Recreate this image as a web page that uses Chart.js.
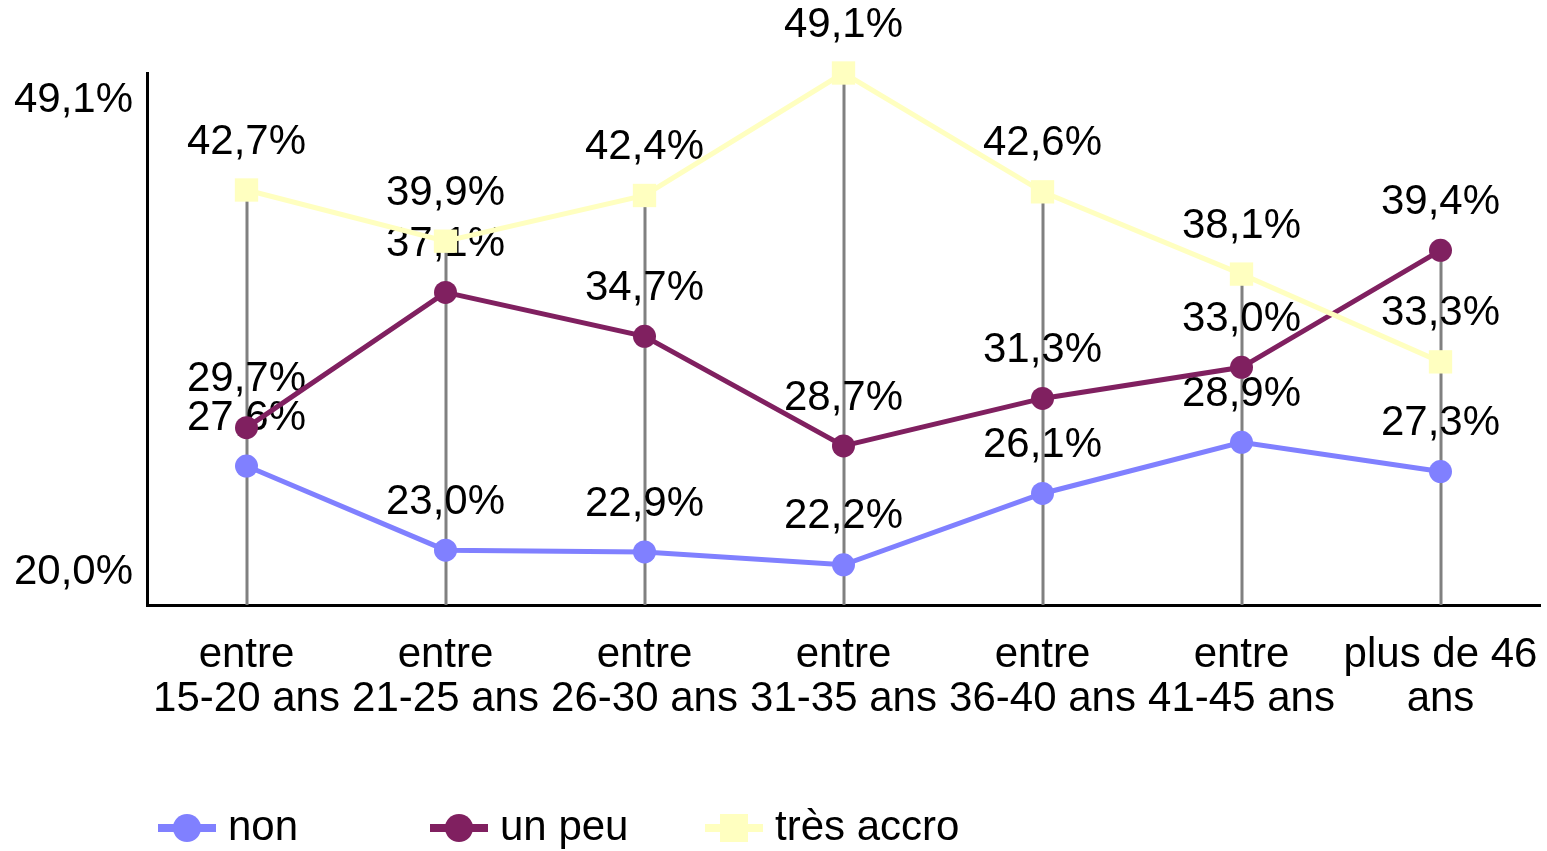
<!DOCTYPE html>
<html>
<head>
<meta charset="utf-8">
<script src="https://cdn.jsdelivr.net/npm/chart.js@4.4.1/dist/chart.umd.min.js"></script>
<style>
  html, body { margin: 0; padding: 0; background: #fff; }
  #wrap { width: 1547px; height: 851px; position: relative; }
</style>
</head>
<body>
<div id="wrap"><canvas id="ageChart"></canvas></div>
<script>
const categories = [
    ['entre', '15-20 ans'],
    ['entre', '21-25 ans'],
    ['entre', '26-30 ans'],
    ['entre', '31-35 ans'],
    ['entre', '36-40 ans'],
    ['entre', '41-45 ans'],
    ['plus de 46', 'ans']
];
const nonValues = [27.6, 23.0, 22.9, 22.2, 26.1, 28.9, 27.3];
const unPeuValues = [29.7, 37.1, 34.7, 28.7, 31.3, 33.0, 39.4];
const tresAccroValues = [42.7, 39.9, 42.4, 49.1, 42.6, 38.1, 33.3];
const yTicks = [20.0, 49.1];

const FONT = '"Liberation Sans", Arial, sans-serif';
const fmt = v => v.toFixed(1).replace('.', ',') + '%';

const series = [
    { label: 'non', data: nonValues, color: '#8080ff', style: 'circle', radius: 11.5 },
    { label: 'un peu', data: unPeuValues, color: '#802060', style: 'circle', radius: 11.5 },
    { label: 'très accro', data: tresAccroValues, color: '#ffffc0', style: 'rect', radius: 16.5 }
];

// gray drop lines from the highest point down to the axis, then value labels
const dropLinesAndLabels = {
    id: 'dropLinesAndLabels',
    beforeDatasetsDraw(chart) {
        const { ctx, scales: { x, y } } = chart;
        ctx.save();
        ctx.strokeStyle = '#808080';
        ctx.lineWidth = 3;
        categories.forEach((c, i) => {
            const top = Math.max(...series.map(s => s.data[i]));
            const px = Math.round(x.getPixelForValue(i));
            ctx.beginPath();
            ctx.moveTo(px, y.getPixelForValue(top));
            ctx.lineTo(px, y.bottom);
            ctx.stroke();
        });
        ctx.fillStyle = '#000';
        ctx.font = '42px ' + FONT;
        ctx.textAlign = 'center';
        ctx.textBaseline = 'middle';
        chart.data.datasets.forEach((ds, di) => {
            chart.getDatasetMeta(di).data.forEach((pt, i) => {
                ctx.fillText(fmt(ds.data[i]), pt.x, pt.y - 48);
            });
        });
        // y tick labels, pulled inside the axis range like the original
        ctx.textAlign = 'right';
        ctx.fillText(fmt(yTicks[1]), y.left - 14, y.getPixelForValue(yTicks[1]) + 27);
        ctx.fillText(fmt(yTicks[0]), y.left - 14, y.getPixelForValue(yTicks[0]) - 33);
        ctx.restore();
    },
    afterDraw(chart) {
        const { ctx } = chart;
        const legendX = [158, 430, 705];
        const legendY = 828;
        ctx.save();
        ctx.font = '42px ' + FONT;
        ctx.textBaseline = 'middle';
        ctx.textAlign = 'left';
        series.forEach((s, i) => {
            const lx = legendX[i];
            ctx.strokeStyle = s.color;
            ctx.fillStyle = s.color;
            ctx.lineWidth = 8;
            ctx.beginPath();
            ctx.moveTo(lx, legendY);
            ctx.lineTo(lx + 58, legendY);
            ctx.stroke();
            if (s.style === 'circle') {
                ctx.beginPath();
                ctx.arc(lx + 29, legendY, 14, 0, Math.PI * 2);
                ctx.fill();
            } else {
                ctx.fillRect(lx + 15, legendY - 14, 28, 28);
            }
            ctx.fillStyle = '#000';
            ctx.fillText(s.label, lx + 70, legendY);
        });
        ctx.restore();
    }
};

const chart = new Chart(document.getElementById('ageChart'), {
    type: 'line',
    data: {
        labels: categories,
        datasets: series.map(s => ({
            label: s.label,
            data: s.data,
            borderColor: s.color,
            backgroundColor: s.color,
            borderWidth: 5,
            pointStyle: s.style,
            pointRadius: s.radius,
            pointHoverRadius: s.radius,
            pointBorderWidth: 0,
            tension: 0,
            clip: false
        })).reverse()
    },
    options: {
        responsive: true,
        maintainAspectRatio: false,
        animation: false,
        layout: { autoPadding: false, padding: { left: 147, top: 73, right: 7, bottom: 0 } },
        scales: {
            x: {
                offset: true,
                grid: { display: false, drawTicks: false },
                border: { display: true, color: '#000', width: 3 },
                ticks: {
                    color: '#000',
                    font: { family: FONT, size: 42, lineHeight: 1.05 },
                    padding: 28,
                    maxRotation: 0,
                    autoSkip: false
                },
                afterFit: s => {
                    s.height = 246;
                    s.paddingLeft = 0;
                    s.paddingRight = 0;
                }
            },
            y: {
                min: yTicks[0],
                max: yTicks[1],
                grid: { display: false, drawTicks: false },
                border: { display: true, color: '#000', width: 3 },
                ticks: { display: false },
                afterFit: s => { s.width = 0; }
            }
        },
        plugins: {
            legend: { display: false },
            tooltip: { enabled: false }
        }
    },
    plugins: [dropLinesAndLabels]
});
</script>
</body>
</html>
